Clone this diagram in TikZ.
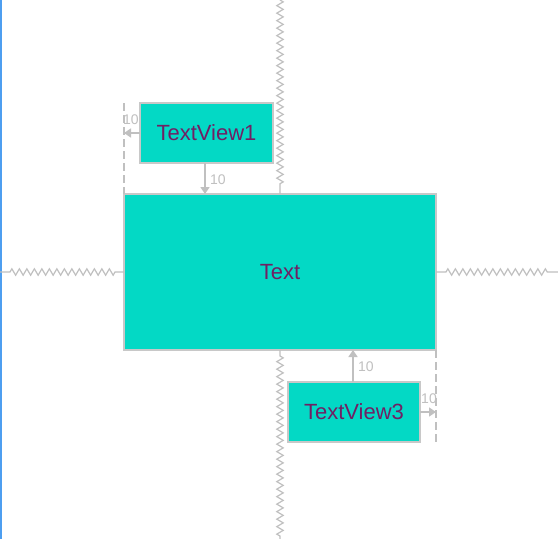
\documentclass[tikz,border=0pt]{standalone}
\usepackage{fontspec}
\setmainfont{Liberation Sans}
\usetikzlibrary{decorations.pathmorphing,arrows.meta,calc}
\definecolor{boxfill}{RGB}{3,217,197}
\definecolor{boxline}{RGB}{200,200,200}
\definecolor{txtcol}{RGB}{112,32,100}
\definecolor{guide}{RGB}{192,192,192}
\definecolor{edgeblue}{RGB}{77,158,240}
\begin{document}
\begin{tikzpicture}[x=1pt,y=-1pt,
  viewbox/.style={draw=boxline,line width=1.5pt,fill=boxfill,text=txtcol,
    font=\fontsize{22}{24}\selectfont,inner sep=0pt,outer sep=0pt,rectangle},
  spring/.style={draw=guide,line width=1.2pt,decorate,
    decoration={zigzag,segment length=7.5pt,amplitude=3.2pt}},
  margarrow/.style={draw=guide,line width=1.5pt,-{Triangle[width=9pt,length=7pt]}},
  guideline/.style={draw=guide,line width=1.5pt,dash pattern=on 8pt off 4pt},
  marglabel/.style={text=guide,font=\fontsize{14}{16}\selectfont,inner sep=0pt}]
\useasboundingbox (0,0) rectangle (558,539);
\fill[white] (0,0) rectangle (558,539);
\draw[edgeblue,line width=1.5pt] (0.75,0) -- (0.75,539);

\node[viewbox,minimum width=312pt,minimum height=156pt] (main) at (280,272) {\raisebox{-1pt}{Text}};
\node[viewbox,minimum width=133pt,minimum height=60pt] (tv1) at (206.5,133) {\raisebox{-1pt}{TextView1}};
\node[viewbox,minimum width=132pt,minimum height=60pt] (tv3) at (354,412) {\raisebox{-1pt}{TextView3}};

\coordinate (topend) at (280,0);
\coordinate (botend) at (280,539);
\coordinate (leftend) at (0,272);
\coordinate (rightend) at (558,272);

\draw[spring,decoration={pre length=0pt,post length=10pt}] (topend) -- (main.north);
\draw[spring,decoration={pre length=6pt,post length=0pt}] (main.south) -- (botend);
\draw[spring,decoration={pre length=10pt,post length=7pt}] (leftend) -- (main.west);
\draw[spring,decoration={pre length=10pt,post length=8pt}] (main.east) -- (rightend);

\coordinate (g1top) at (124,103);
\coordinate (g1bot) at (124,194);
\coordinate (g3top) at (436,350);
\coordinate (g3bot) at (436,442);
\draw[guideline] (g1top) -- (g1bot);
\draw[guideline] (g3top) -- (g3bot);

\coordinate (a1end) at (124,133);
\draw[margarrow] (tv1.west) -- (a1end);
\draw[margarrow] ($(tv1.south)+(-1.5,0)$) -- ($(tv1.south |- main.north)+(-1.5,0)$);
\draw[margarrow] ($(tv3.north)+(-1,0)$) -- ($(tv3.north |- main.south)+(-1,0)$);
\draw[margarrow] (tv3.east) -- (tv3.east -| main.east);

\node[marglabel] (l1) at (131,120) {10};
\node[marglabel] (l2) at (218,180) {10};
\node[marglabel] (l3) at (366,367) {10};
\node[marglabel] (l4) at (429,399) {10};
\end{tikzpicture}
\end{document}
